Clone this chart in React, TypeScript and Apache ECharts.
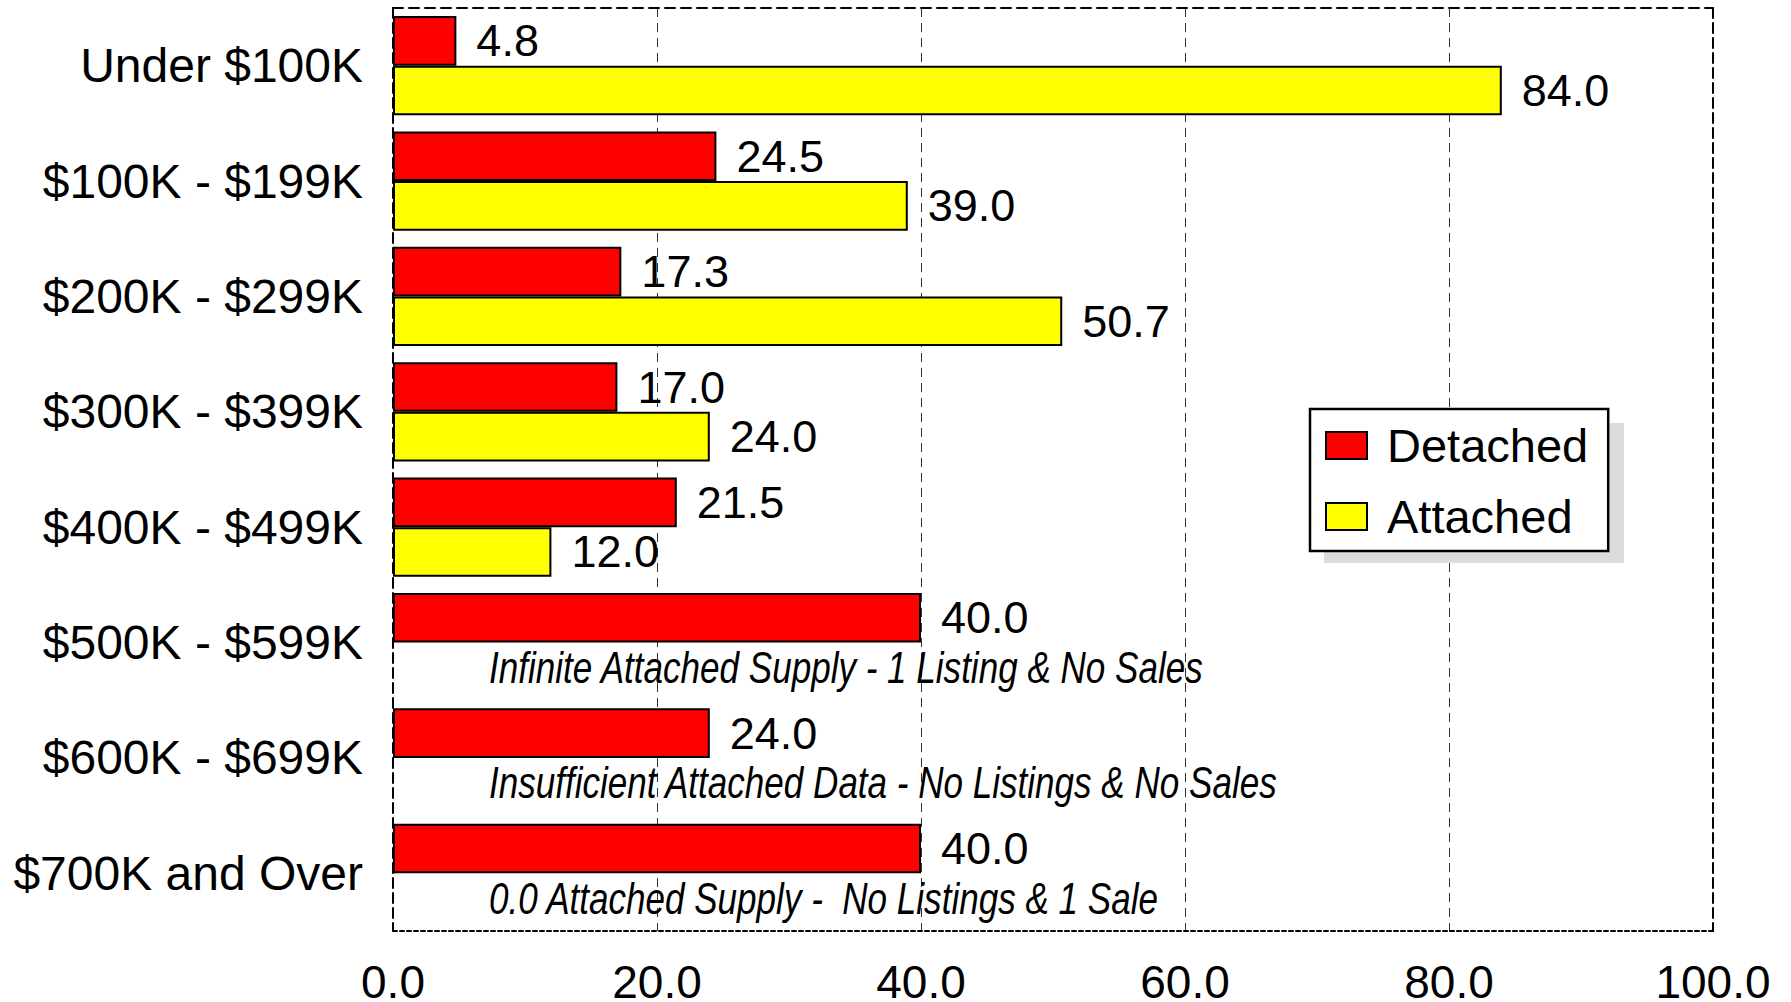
import React, { useEffect, useRef } from "react";
import * as echarts from "echarts";

const categories = [
  "Under $100K",
  "$100K - $199K",
  "$200K - $299K",
  "$300K - $399K",
  "$400K - $499K",
  "$500K - $599K",
  "$600K - $699K",
  "$700K and Over",
];
const detached = [4.8, 24.5, 17.3, 17.0, 21.5, 40.0, 24.0, 40.0];
const attached: (number | null)[] = [84.0, 39.0, 50.7, 24.0, 12.0, null, null, null];
const notes: (string | null)[] = [
  null,
  null,
  null,
  null,
  null,
  "Infinite Attached Supply - 1 Listing & No Sales",
  "Insufficient Attached Data - No Listings & No Sales",
  "0.0 Attached Supply -  No Listings & 1 Sale",
];
const xMin = 0;
const xMax = 100;
const xInterval = 20;

const FONT = "'Liberation Sans', Arial, sans-serif";

export default function App() {
  const ref = useRef<HTMLDivElement>(null);
  useEffect(() => {
    if (!ref.current) return;
    const chart = echarts.init(ref.current, null, { renderer: "svg" });
    const noteItems = notes
      .map((n, i) => (n ? { value: [0, i], text: n } : null))
      .filter((d) => d !== null) as { value: number[]; text: string }[];

    const option: any = {
      animation: false,
      backgroundColor: "#ffffff",
      textStyle: { fontFamily: FONT },
      grid: {
        left: 393,
        right: 78,
        top: 8,
        bottom: 71,
        containLabel: false,
        outerBoundsMode: "none",
      },
      xAxis: [
        {
          type: "value",
          min: xMin,
          max: xMax,
          interval: xInterval,
          position: "bottom",
          axisLine: { show: true, onZero: false, lineStyle: { color: "#000", width: 2, type: [4, 3] } },
          axisTick: { show: false },
          axisLabel: {
            color: "#000",
            fontSize: 46,
            lineHeight: 34,
            fontFamily: FONT,
            margin: 34,
            formatter: (v: number) => v.toFixed(1),
          },
          splitLine: {
            show: true,
            showMinLine: false,
            showMaxLine: false,
            lineStyle: { color: "#333", width: 1, type: [9, 6] },
          },
        },
        {
          type: "value",
          min: xMin,
          max: xMax,
          interval: xInterval,
          position: "top",
          axisLine: { show: true, onZero: false, lineStyle: { color: "#000", width: 2, type: [10, 6] } },
          axisTick: { show: false },
          axisLabel: { show: false },
          splitLine: { show: false },
        },
      ],
      yAxis: [
        {
          type: "category",
          data: categories,
          inverse: true,
          position: "left",
          axisLine: { show: true, onZero: false, lineStyle: { color: "#000", width: 2, type: [10, 5] } },
          axisTick: { show: false },
          axisLabel: { color: "#000", fontSize: 48, fontFamily: FONT, margin: 30, padding: [5, 0, 0, 0] },
          splitLine: { show: false },
        },
        {
          type: "category",
          data: categories,
          inverse: true,
          position: "right",
          axisLine: { show: true, onZero: false, lineStyle: { color: "#000", width: 2, type: [10, 5] } },
          axisTick: { show: false },
          axisLabel: { show: false },
          splitLine: { show: false },
        },
      ],
      legend: {
        data: ["Detached", "Attached"],
        orient: "vertical",
        left: 1310,
        top: 409,
        z: 5,
        backgroundColor: "#ffffff",
        borderColor: "#000",
        borderWidth: 2.5,
        padding: [13, 20, 11, 15],
        itemGap: 24,
        itemWidth: 41,
        itemHeight: 27,
        icon: "rect",
        itemStyle: { borderColor: "#000", borderWidth: 2 },
        textStyle: { fontSize: 47, color: "#000", fontFamily: FONT, padding: [0, 0, 0, 15], lineHeight: 46 },
      },
      graphic: [
        {
          type: "rect",
          z: 1,
          shape: { x: 1324, y: 423, width: 300, height: 140 },
          style: { fill: "#dcdcdc" },
        },
      ],
      series: [
        {
          name: "Detached",
          type: "bar",
          xAxisIndex: 0,
          yAxisIndex: 0,
          data: detached,
          barGap: "0%",
          barCategoryGap: "14%",
          itemStyle: { color: "#ff0000", borderColor: "#000", borderWidth: 2 },
          label: {
            show: true,
            position: "right",
            distance: 20,
            color: "#000",
            fontSize: 45,
            fontFamily: FONT,
            padding: [2, 0, 0, 0],
            formatter: (p: any) => Number(p.value).toFixed(1),
          },
          z: 3,
        },
        {
          name: "Attached",
          type: "bar",
          xAxisIndex: 0,
          yAxisIndex: 0,
          data: attached,
          barGap: "0%",
          barCategoryGap: "14%",
          itemStyle: { color: "#ffff00", borderColor: "#000", borderWidth: 2 },
          label: {
            show: true,
            position: "right",
            distance: 20,
            color: "#000",
            fontSize: 45,
            fontFamily: FONT,
            padding: [1, 0, 0, 0],
            formatter: (p: any) => (p.value == null ? "" : Number(p.value).toFixed(1)),
          },
          z: 3,
        },
        {
          name: "notes",
          type: "custom",
          xAxisIndex: 0,
          yAxisIndex: 0,
          clip: false,
          z: 4,
          encode: { x: 0, y: 1 },
          data: noteItems.map((d) => d.value),
          renderItem: (params: any, api: any) => {
            const idx = api.value(1);
            const c = api.coord([0, idx]);
            const band = api.size([0, 1])[1];
            const text = noteItems[params.dataIndex].text;
            return {
              type: "text",
              x: c[0] + 96,
              y: c[1] + band * 0.215,
              scaleX: 0.779,
              style: {
                text,
                fontFamily: FONT,
                fontStyle: "italic",
                fontSize: 45,
                fill: "#000",
                align: "left",
                verticalAlign: "middle",
              },
            };
          },
        },
      ],
    };
    chart.setOption(option);
    return () => chart.dispose();
  }, []);
  return (
    <div
      ref={ref}
      style={{ position: "absolute", left: 0, top: 0, width: 1791, height: 1002, background: "#fff" }}
    />
  );
}
